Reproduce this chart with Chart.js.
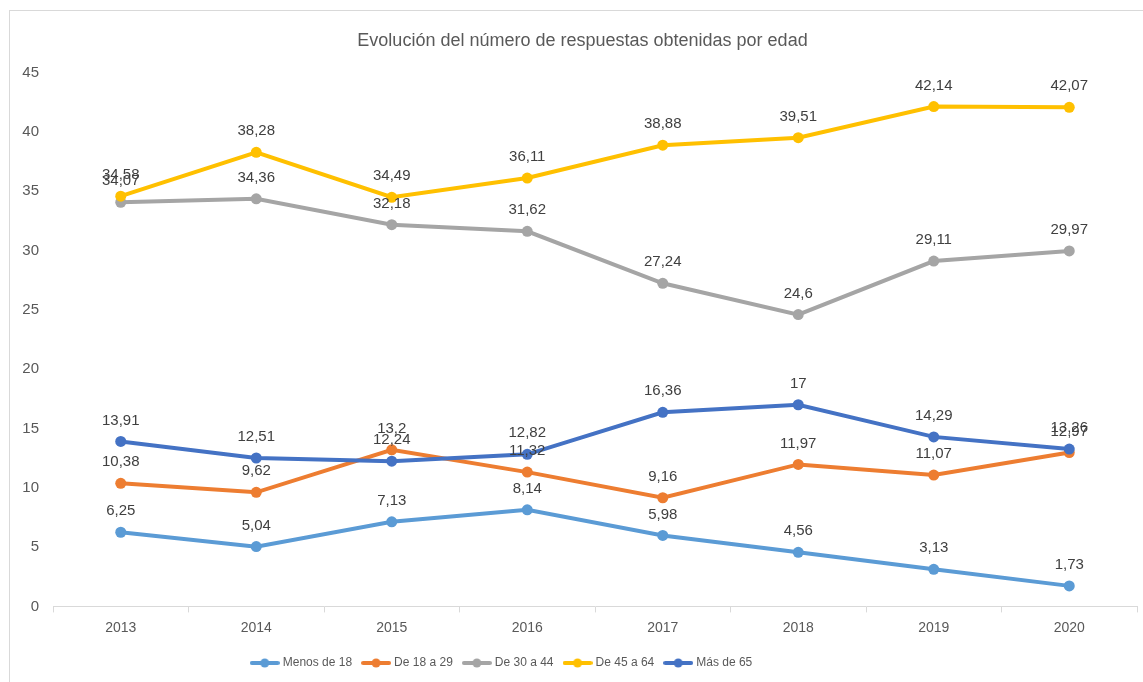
<!DOCTYPE html>
<html>
<head>
<meta charset="utf-8">
<script src="https://cdn.jsdelivr.net/npm/chart.js@4.4.0/dist/chart.umd.min.js"></script>
<style>
  html, body { margin: 0; padding: 0; background: #fff; }
  #wrap { position: relative; width: 1143px; height: 682px; overflow: hidden; }
  #frame { position: absolute; left: 9px; top: 10px; width: 1140px; height: 680px; border: 1px solid #d9d9d9; box-sizing: border-box; }
  canvas { position: absolute; left: 0; top: 0; }
</style>
</head>
<body>
<div id="wrap">
  <div id="frame"></div>
  <canvas id="c" width="1143" height="682"></canvas>
</div>
<script>
const years = ['2013', '2014', '2015', '2016', '2017', '2018', '2019', '2020'];
const seriesNames = ['Menos de 18', 'De 18 a 29', 'De 30 a 44', 'De 45 a 64', 'Más de 65'];
const menos18 = [6.25, 5.04, 7.13, 8.14, 5.98, 4.56, 3.13, 1.73];
const de18a29 = [10.38, 9.62, 13.2, 11.32, 9.16, 11.97, 11.07, 12.97];
const de30a44 = [34.07, 34.36, 32.18, 31.62, 27.24, 24.6, 29.11, 29.97];
const de45a64 = [34.58, 38.28, 34.49, 36.11, 38.88, 39.51, 42.14, 42.07];
const mas65 = [13.91, 12.51, 12.24, 12.82, 16.36, 17, 14.29, 13.26];
const yMin = 0, yMax = 45, yStep = 5;
const titleText = 'Evolución del número de respuestas obtenidas por edad';

const seriesValues = [menos18, de18a29, de30a44, de45a64, mas65];
const seriesColors = ['#5B9BD5', '#ED7D31', '#A5A5A5', '#FFC000', '#4472C4'];

const SANS = "'Liberation Sans', Arial, sans-serif";

function fmt(v) { return String(v).replace('.', ','); }

function legendIcon(color) {
  const c = document.createElement('canvas');
  c.width = 30; c.height = 12;
  const g = c.getContext('2d');
  g.strokeStyle = color; g.lineWidth = 4; g.lineCap = 'round';
  g.beginPath(); g.moveTo(2, 6); g.lineTo(28, 6); g.stroke();
  g.fillStyle = color;
  g.beginPath(); g.arc(15, 6, 4.5, 0, Math.PI * 2); g.fill();
  return c;
}
const icons = seriesColors.map(legendIcon);

const dataLabels = {
  id: 'dataLabels',
  afterDatasetsDraw(chart) {
    const ctx = chart.ctx;
    ctx.save();
    ctx.font = '15px ' + SANS;
    ctx.fillStyle = '#404040';
    ctx.textAlign = 'center';
    ctx.textBaseline = 'middle';
    chart.data.datasets.forEach((ds, i) => {
      const meta = chart.getDatasetMeta(i);
      meta.data.forEach((pt, j) => {
        ctx.fillText(fmt(ds.data[j]), pt.x, pt.y - 21);
      });
    });
    ctx.restore();
  }
};

// Shift title and legend horizontally to match the reference placement
const boxShift = {
  id: 'boxShift',
  afterLayout(chart) {
    if (chart.titleBlock) { chart.titleBlock.left += 28; }
    if (chart.legend) { chart.legend.left -= 66; chart.legend.right -= 66; }
  }
};

new Chart(document.getElementById('c'), {
  type: 'line',
  data: {
    labels: years,
    datasets: seriesNames.map((name, i) => ({
      label: name,
      data: seriesValues[i],
      borderColor: seriesColors[i],
      backgroundColor: seriesColors[i],
      borderWidth: 4,
      pointRadius: 5.5,
      pointHoverRadius: 5.5,
      pointBorderWidth: 0,
      tension: 0,
      order: seriesNames.length - i
    }))
  },
  options: {
    responsive: false,
    animation: false,
    layout: { padding: { left: 0, right: 6, top: 0, bottom: 3 } },
    plugins: {
      tooltip: { enabled: false },
      title: {
        display: true,
        text: titleText,
        color: '#595959',
        font: { family: SANS, size: 18, weight: 'normal' },
        padding: { top: 30, bottom: 21 }
      },
      legend: {
        position: 'bottom',
        labels: {
          usePointStyle: true,
          pointStyleWidth: 24,
          color: '#595959',
          font: { family: SANS, size: 12 },
          padding: 12,
          generateLabels(chart) {
            return chart.data.datasets.map((ds, i) => ({
              text: ds.label,
              fillStyle: ds.borderColor,
              strokeStyle: ds.borderColor,
              lineWidth: 0,
              pointStyle: icons[i],
              fontColor: '#595959',
              hidden: false,
              datasetIndex: i
            }));
          }
        }
      }
    },
    scales: {
      x: {
        offset: true,
        grid: { display: true, drawOnChartArea: false, drawTicks: true, tickLength: 6, offset: true, color: '#d9d9d9', lineWidth: 1 },
        border: { display: true, color: '#d9d9d9', width: 1 },
        ticks: { color: '#595959', font: { family: SANS, size: 14 }, padding: 7 },
        afterFit(scale) { scale.height = 38.6; }
      },
      y: {
        min: yMin, max: yMax,
        ticks: { stepSize: yStep, color: '#595959', font: { family: SANS, size: 15 }, padding: 6 },
        grid: { display: false },
        border: { display: false },
        afterFit(scale) { scale.width = 53; }
      }
    }
  },
  plugins: [dataLabels, boxShift]
});
</script>
</body>
</html>
